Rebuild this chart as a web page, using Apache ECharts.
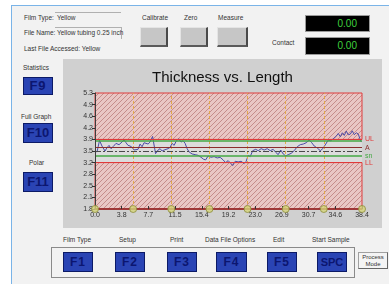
<!DOCTYPE html>
<html>
<head>
<meta charset="UTF-8">
<title>Thickness vs. Length</title>
<script src="https://cdn.jsdelivr.net/npm/echarts@6/dist/echarts.min.js"></script>
<style>
body { margin: 0; width: 389px; height: 284px; background: #fff; overflow: hidden; position: relative; }
.win { position: absolute; left: 11px; top: 5px; width: 378px; height: 279px; background: #f2f2f2;
       border-left: 1px solid #7ab4e8; border-top: 1px solid #7ab4e8; box-sizing: border-box; }
.t { position: absolute; font: 6.5px "Liberation Sans", Arial, sans-serif; color: #333; white-space: nowrap; line-height: 8px; }
.gb { position: absolute; background: #c6c6c6; box-sizing: border-box;
      border-top: 1px solid #e4e4e4; border-left: 1px solid #e4e4e4; border-right: 2px solid #4a4a4a; border-bottom: 2px solid #5a5a5a; }
.fk { position: absolute; background: #2a44b4; border: 1px solid #0c1a66; box-sizing: border-box; color: #0c1670;
      font: bold 13px "Liberation Sans", Arial, sans-serif; text-align: center; letter-spacing: 1px; }
.disp { position: absolute; background: #000; border: 1px solid #9a9a9a; box-sizing: border-box; color: #3fd23f;
        font: 10px "Liberation Sans", Arial, sans-serif; text-align: right; padding-right: 12px; }
#main { position: absolute; left: 63px; top: 59px; width: 319px; height: 169px; background: #d0d0d0; }
</style>
</head>
<body>
<div class="win"></div>

<div class="t" style="left:24px;top:14px">Film Type:</div>
<div style="position:absolute;left:55px;top:12px;width:66px;border-top:1px solid #b0b0b0"></div>
<div class="t" style="left:57px;top:14px">Yellow</div>
<div class="t" style="left:24px;top:29px">File Name:</div>
<div style="position:absolute;left:55px;top:27px;width:66px;height:11px;border-top:1px solid #b0b0b0;border-right:1px solid #b0b0b0"></div>
<div class="t" style="left:57px;top:29px">Yellow tubing 0.25 inch</div>
<div class="t" style="left:24px;top:45px">Last File Accessed: Yellow</div>

<div class="t" style="left:142px;top:14px">Calibrate</div>
<div class="gb" style="left:140px;top:27px;width:28px;height:20px"></div>
<div class="t" style="left:184px;top:14px">Zero</div>
<div class="gb" style="left:180px;top:27px;width:28px;height:20px"></div>
<div class="t" style="left:218px;top:14px">Measure</div>
<div class="gb" style="left:217px;top:27px;width:31px;height:20px"></div>

<div class="disp" style="left:305px;top:15px;width:65px;height:17px;line-height:15px">0.00</div>
<div class="t" style="left:272px;top:39px">Contact</div>
<div class="disp" style="left:305px;top:37px;width:65px;height:18px;line-height:16px">0.00</div>

<div class="t" style="left:23px;top:64px">Statistics</div>
<div class="fk" style="left:23px;top:77px;width:30px;height:18px;line-height:16px">F9</div>
<div class="t" style="left:21px;top:113px">Full Graph</div>
<div class="fk" style="left:23px;top:123px;width:30px;height:20px;line-height:18px;letter-spacing:0">F10</div>
<div class="t" style="left:29px;top:159px">Polar</div>
<div class="fk" style="left:23px;top:172px;width:30px;height:20px;line-height:18px;letter-spacing:0">F11</div>

<div id="main"></div>

<div class="t" style="left:63px;top:236px">Film Type</div>
<div class="t" style="left:119px;top:236px">Setup</div>
<div class="t" style="left:170px;top:236px">Print</div>
<div class="t" style="left:205px;top:236px">Data File Options</div>
<div class="t" style="left:273px;top:236px">Edit</div>
<div class="t" style="left:312px;top:236px">Start Sample</div>
<div style="position:absolute;left:51px;top:247px;width:304px;height:31px;border:1px solid #8a8a8a;box-sizing:border-box"></div>
<div class="fk" style="left:63px;top:252px;width:30px;height:20px;line-height:18px;font-size:12px">F1</div>
<div class="fk" style="left:115px;top:252px;width:30px;height:20px;line-height:18px;font-size:12px">F2</div>
<div class="fk" style="left:167px;top:252px;width:30px;height:20px;line-height:18px;font-size:12px">F3</div>
<div class="fk" style="left:216px;top:252px;width:31px;height:20px;line-height:18px;font-size:12px">F4</div>
<div class="fk" style="left:267px;top:252px;width:30px;height:20px;line-height:18px;font-size:12px">F5</div>
<div class="fk" style="left:317px;top:252px;width:30px;height:20px;line-height:18px;font-size:11px;letter-spacing:0">SPC</div>
<div style="position:absolute;left:358px;top:252px;width:30px;height:17px;background:#f4f4f4;border:1px solid #a0a0a0;border-right-color:#666;border-bottom-color:#666;box-sizing:border-box;font:6px 'Liberation Sans',Arial,sans-serif;color:#333;text-align:center;line-height:7px;padding-top:1px">Process<br>Mode</div>

<script type="text/javascript">
// tick labels
var xTicks = ['0.0', '3.8', '7.7', '11.5', '15.4', '19.2', '23.0', '26.9', '30.7', '34.6', '38.4'];
var yTicks = ['1.8', '2.1', '2.5', '2.8', '3.2', '3.5', '3.9', '4.2', '4.6', '4.9', '5.3'];

// measured thickness along the length
var lengthPos = [0.0, 0.29, 0.65, 1.0, 1.44, 1.73, 2.02, 2.3, 2.6, 3.02, 3.46, 3.74, 4.18, 4.46, 4.75, 5.04,
    5.33, 5.62, 5.9, 6.19, 6.48, 6.77, 7.06, 7.34, 7.63, 7.92, 8.28, 8.71, 9.07, 9.36, 9.65, 9.94, 10.22,
    10.51, 10.8, 11.09, 11.38, 11.66, 12.02, 12.38, 12.67, 12.96, 13.25, 13.54, 13.97, 14.4, 14.83, 15.26,
    15.62, 15.91, 16.27, 16.7, 17.13, 17.57, 18.0, 18.43, 18.79, 19.15, 19.51, 19.8, 20.16, 20.59, 21.02,
    21.45, 21.74, 22.03, 22.32, 22.68, 23.11, 23.47, 23.9, 24.33, 24.77, 25.2, 25.63, 25.99, 26.35, 26.71,
    27.07, 27.43, 27.79, 28.22, 28.65, 29.09, 29.52, 29.95, 30.38, 30.81, 31.17, 31.53, 31.97, 32.4, 32.76,
    33.19, 33.55, 33.91, 34.27, 34.63, 34.99, 35.28, 35.57, 35.85, 36.14, 36.43, 36.72, 37.0, 37.29, 37.58,
    37.87, 38.09, 38.3];
var thickness = [3.56, 3.52, 3.87, 3.70, 3.55, 3.65, 3.72, 3.62, 3.68, 3.78, 3.74, 3.80, 3.88, 3.80, 3.72, 3.70,
    3.66, 3.58, 3.52, 3.60, 3.76, 3.68, 3.80, 3.86, 3.76, 3.82, 3.99, 3.47, 3.58, 3.62, 3.55, 3.58, 3.54,
    3.62, 3.66, 3.78, 3.72, 3.84, 3.92, 3.82, 3.86, 3.78, 3.62, 3.52, 3.46, 3.44, 3.42, 3.36,
    3.30, 3.28, 3.40, 3.36, 3.38, 3.34, 3.36, 3.28, 3.20, 3.26, 3.18, 3.11, 3.24, 3.22, 3.24,
    3.17, 3.24, 3.42, 3.38, 3.56, 3.60, 3.56, 3.62, 3.58, 3.62, 3.56, 3.60, 3.51, 3.44, 3.58,
    3.46, 3.40, 3.44, 3.48, 3.56, 3.68, 3.74, 3.76, 3.80, 3.88, 3.80, 3.70, 3.64, 3.56, 3.62,
    3.76, 3.88, 3.86, 3.92, 3.98, 4.08, 3.98, 4.10, 4.02, 4.15, 4.04, 4.06, 4.16, 4.04, 4.10,
    4.06, 3.92, 3.82];

// sample marker positions on the length axis
var markerPos = [0.0, 5.49, 10.97, 16.46, 21.94, 27.43, 32.91, 38.4];

// limits
var yMin = 1.8, yMax = 5.3, xMax = 38.4;
var upperLimit = 3.9, lowerLimit = 3.2, average = 3.65, target = 3.55, upperBand = 3.86, lowerBand = 3.4;

// hatch pattern for the out-of-limit zones
function makeHatch() {
    var s = 5;
    var c = document.createElement('canvas');
    c.width = s; c.height = s;
    var ctx = c.getContext('2d');
    ctx.fillStyle = '#e9c6c4';
    ctx.fillRect(0, 0, s, s);
    ctx.strokeStyle = '#c48c8a';
    ctx.lineWidth = 1;
    ctx.beginPath();
    ctx.moveTo(-1, s + 1); ctx.lineTo(s + 1, -1);
    ctx.moveTo(-1, 1); ctx.lineTo(1, -1);
    ctx.moveTo(s - 1, s + 1); ctx.lineTo(s + 1, s - 1);
    ctx.stroke();
    return c;
}
var hatch = { image: makeHatch(), repeat: 'repeat' };

var lineData = [];
for (var i = 0; i < lengthPos.length; i++) {
    lineData.push([lengthPos[i], thickness[i]]);
}
var markerData = [];
var vLines = [];
for (var j = 0; j < markerPos.length; j++) {
    markerData.push([markerPos[j], yMin]);
    if (j > 0 && j < markerPos.length - 1) vLines.push({ xAxis: markerPos[j] });
}

function hLine(v, color, width, type, text) {
    return {
        yAxis: v,
        lineStyle: { color: color, width: width, type: type },
        label: text ? { show: true, formatter: text, position: 'end', distance: 3, color: color, fontSize: 7 } : { show: false }
    };
}

var myChart = echarts.init(document.getElementById('main'));
var option = {
    animation: false,
    textStyle: { fontFamily: '"Liberation Sans", Arial, sans-serif' },
    title: {
        text: 'Thickness vs. Length',
        left: 'center',
        top: 6,
        textStyle: { fontSize: 15, fontWeight: 'normal', color: '#111' }
    },
    grid: { left: 32, top: 34, right: 20, bottom: 19 },
    xAxis: [
        {
            type: 'value', min: 0, max: xMax, z: 6,
            axisLine: { onZero: false, lineStyle: { color: '#8a1f1f', width: 1.5 } },
            axisTick: { show: false }, axisLabel: { show: false }, splitLine: { show: false }
        },
        {
            type: 'category', data: xTicks, boundaryGap: false, position: 'bottom', z: 6,
            axisLine: { show: false },
            axisTick: { show: true, inside: true, length: 3, lineStyle: { color: '#333' } },
            axisLabel: { interval: 0, fontSize: 7, color: '#333', margin: 3 },
            splitLine: { show: false }
        }
    ],
    yAxis: [
        {
            type: 'value', min: yMin, max: yMax,
            axisLine: { show: false }, axisTick: { show: false }, axisLabel: { show: false }, splitLine: { show: false }
        },
        {
            type: 'category', data: yTicks, boundaryGap: false, position: 'left', z: 6,
            axisLine: { show: true, lineStyle: { color: '#3d3d3d' } },
            axisTick: { show: true, length: 3, lineStyle: { color: '#333' } },
            axisLabel: { interval: 0, fontSize: 7, color: '#333', margin: 2 },
            splitLine: { show: false }
        }
    ],
    series: [
        {
            name: 'Thickness',
            type: 'line',
            xAxisIndex: 0, yAxisIndex: 0,
            data: lineData,
            showSymbol: false,
            lineStyle: { color: '#4b4ba6', width: 1 },
            z: 4,
            markArea: {
                silent: true,
                data: [
                    [{ yAxis: upperLimit, itemStyle: { color: hatch, borderColor: '#e03c3c', borderWidth: 1 } }, { yAxis: yMax }],
                    [{ yAxis: yMin, itemStyle: { color: hatch, borderColor: '#e03c3c', borderWidth: 1 } }, { yAxis: lowerLimit }],
                    [{ yAxis: lowerLimit, itemStyle: { color: '#dcdcdc' } }, { yAxis: upperLimit }]
                ]
            },
            markLine: {
                silent: true,
                symbol: 'none',
                data: vLines.map(function (d) {
                    return { xAxis: d.xAxis, lineStyle: { color: '#e2a84a', width: 1, type: [3, 2] }, label: { show: false } };
                }).concat([
                    hLine(upperLimit, '#e03a3a', 1, 'solid', 'UL'),
                    hLine(upperBand, '#45a845', 1.5, 'solid', ''),
                    hLine(average, '#8b2e2e', 1, 'solid', 'A'),
                    hLine(target, '#4a4a4a', 1, [6, 2, 2, 2], ''),
                    hLine(lowerBand, '#45a845', 1.5, 'solid', 'sn'),
                    hLine(lowerLimit, '#e03a3a', 1, 'solid', 'LL')
                ])
            }
        },
        {
            name: 'Markers',
            type: 'scatter',
            xAxisIndex: 0, yAxisIndex: 0,
            data: markerData,
            symbolSize: 7,
            clip: false,
            z: 8,
            itemStyle: { color: '#d6d67c', borderColor: '#8c8c3a', borderWidth: 1 }
        }
    ]
};
myChart.setOption(option);
</script>
</body>
</html>
